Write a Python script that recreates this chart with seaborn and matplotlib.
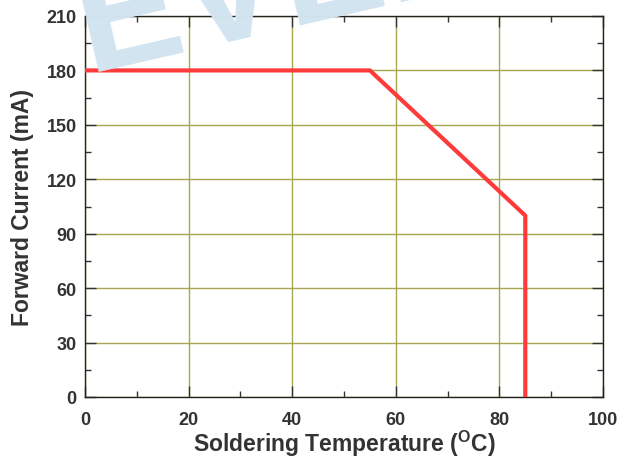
import matplotlib
matplotlib.use("Agg")
import matplotlib.pyplot as plt
import seaborn as sns
import pandas as pd
from matplotlib.ticker import MultipleLocator

# datos de la curva de derating
temperatura = [0, 55, 85, 85]
corriente = [180, 180, 100, 0]

x_ticks = [0, 20, 40, 60, 80, 100]
y_ticks = [0, 30, 60, 90, 120, 150, 180, 210]

df = pd.DataFrame({"temp": temperatura, "corriente": corriente})

sns.set_style("ticks")
plt.rcParams["font.family"] = ["Liberation Sans", "DejaVu Sans"]
plt.rcParams["font.weight"] = "bold"
plt.rcParams["mathtext.default"] = "bf"

fig = plt.figure(figsize=(6.19, 4.64), dpi=100)
ax = fig.add_axes([85 / 619, 1 - 398 / 464, (603 - 85) / 619, (398 - 17) / 464])

# marca de agua (logo de fondo, cortado arriba)
fig.text(88 / 619, 1 - 72 / 464, "EVERLIGHT", fontsize=112, fontweight="bold",
         color="#d3e4f1", rotation=13, rotation_mode="anchor",
         ha="left", va="baseline", zorder=0)
ax.patch.set_alpha(0)

sns.lineplot(data=df, x="temp", y="corriente", sort=False, estimator=None,
             color="#ff3a3a", linewidth=3, ax=ax, zorder=5)

ax.set_xlim(0, 100)
ax.set_ylim(0, 210)
ax.set_xticks(x_ticks)
ax.set_yticks(y_ticks)
ax.xaxis.set_minor_locator(MultipleLocator(10))
ax.yaxis.set_minor_locator(MultipleLocator(15))
ax.grid(True, which="major", color="#a8a650", linewidth=1)
ax.tick_params(which="both", direction="in", top=True, right=True,
               labelsize=13, color="#333333")
ax.tick_params(axis="x", pad=10)
ax.tick_params(axis="y", pad=6)
ax.tick_params(which="major", length=8, width=1)
ax.tick_params(which="minor", length=4, width=1)
for s in ax.spines.values():
    s.set_color("#222222")
    s.set_linewidth(1)
for lbl in ax.get_xticklabels() + ax.get_yticklabels():
    lbl.set_fontweight("bold")
    lbl.set_color("#333333")

ax.set_xlabel("Soldering Temperature (" + "$\\mathregular{^{O}}$" + "C)",
              fontsize=16.5, fontweight="bold", color="#333333", labelpad=0)
ax.set_ylabel("Forward Current (mA)", fontsize=16.5, fontweight="bold",
              color="#333333", labelpad=9)

fig.savefig("out.png", dpi=100)
